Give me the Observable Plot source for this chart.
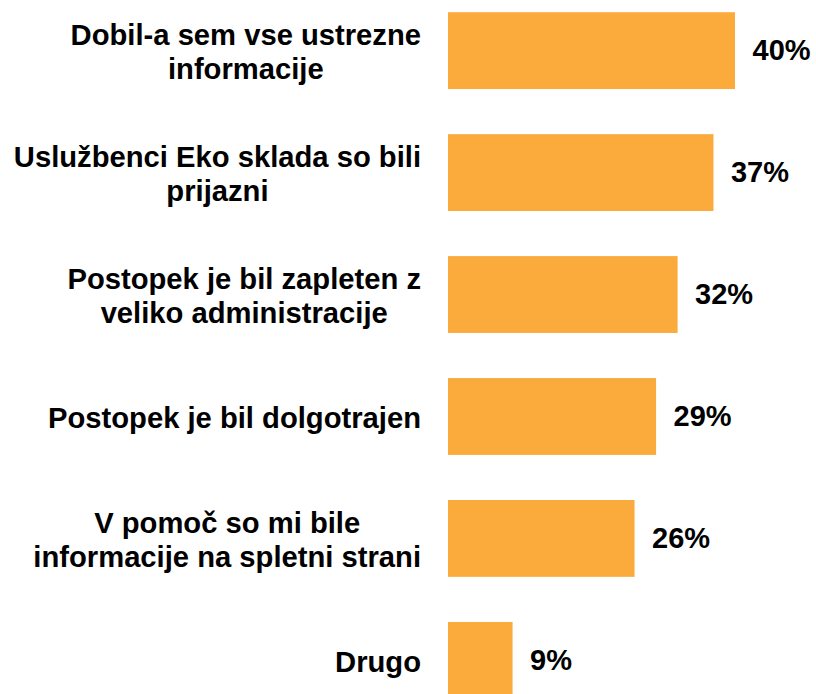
<!DOCTYPE html>
<html>
<head>
<meta charset="utf-8">
<script src="https://cdn.jsdelivr.net/npm/d3@7"></script>
<script src="https://cdn.jsdelivr.net/npm/@observablehq/plot@0.6"></script>
<style>
  html, body { margin: 0; padding: 0; background: #fff; overflow: hidden; }
  #chart svg { display: block; }
</style>
</head>
<body>
<div id="chart"></div>
<script>
const categories = [
  "Dobil-a sem vse ustrezne\ninformacije",
  "Uslužbenci Eko sklada so bili\nprijazni",
  "Postopek je bil zapleten z\nveliko administracije",
  "Postopek je bil dolgotrajen",
  "V pomoč so mi bile\ninformacije na spletni strani",
  "Drugo"
];
const values = [40, 37, 32, 29, 26, 9];

const data = categories.map((c, i) => ({category: c, value: values[i]}));
const FONT = "'Liberation Sans', Arial, Helvetica, sans-serif";

const plot = Plot.plot({
  width: 816,
  height: 694,
  marginLeft: 448,
  marginRight: 81,
  marginTop: 0,
  marginBottom: 0,
  style: {fontFamily: FONT, background: "#fff"},
  x: {domain: [0, 40], axis: null},
  y: {domain: categories, range: [0, 711], paddingInner: 0.37, paddingOuter: 0.1, round: false, axis: null},
  marks: [
    Plot.barX(data, {x: "value", y: "category", fill: "#FBAB3C"}),
    Plot.text(data, {
      x: "value", y: "category", text: d => d.value + "%",
      textAnchor: "start", dx: 17, fontSize: 29, fontWeight: "bold", fill: "#000"
    }),
    Plot.text(data, {
      x: 0, y: "category", text: "category",
      textAnchor: "middle", lineHeight: 1.17, fontSize: 29.2, fontWeight: "bold", fill: "#000",
      className: "cat-labels"
    })
  ]
});

document.getElementById("chart").appendChild(plot);

// Right-align each label block (lines centred within it) to a fixed gap before the bars
const x0 = plot.scale("x").apply(0);
const svgRect = plot.getBoundingClientRect();
plot.querySelectorAll("g.cat-labels text").forEach(el => {
  const r = el.getBoundingClientRect();
  const right = r.right - svgRect.left;
  const shift = (x0 - 27) - right;
  const t = el.getAttribute("transform") || "";
  el.setAttribute("transform", t + ` translate(${shift},0)`);
});
</script>
</body>
</html>
